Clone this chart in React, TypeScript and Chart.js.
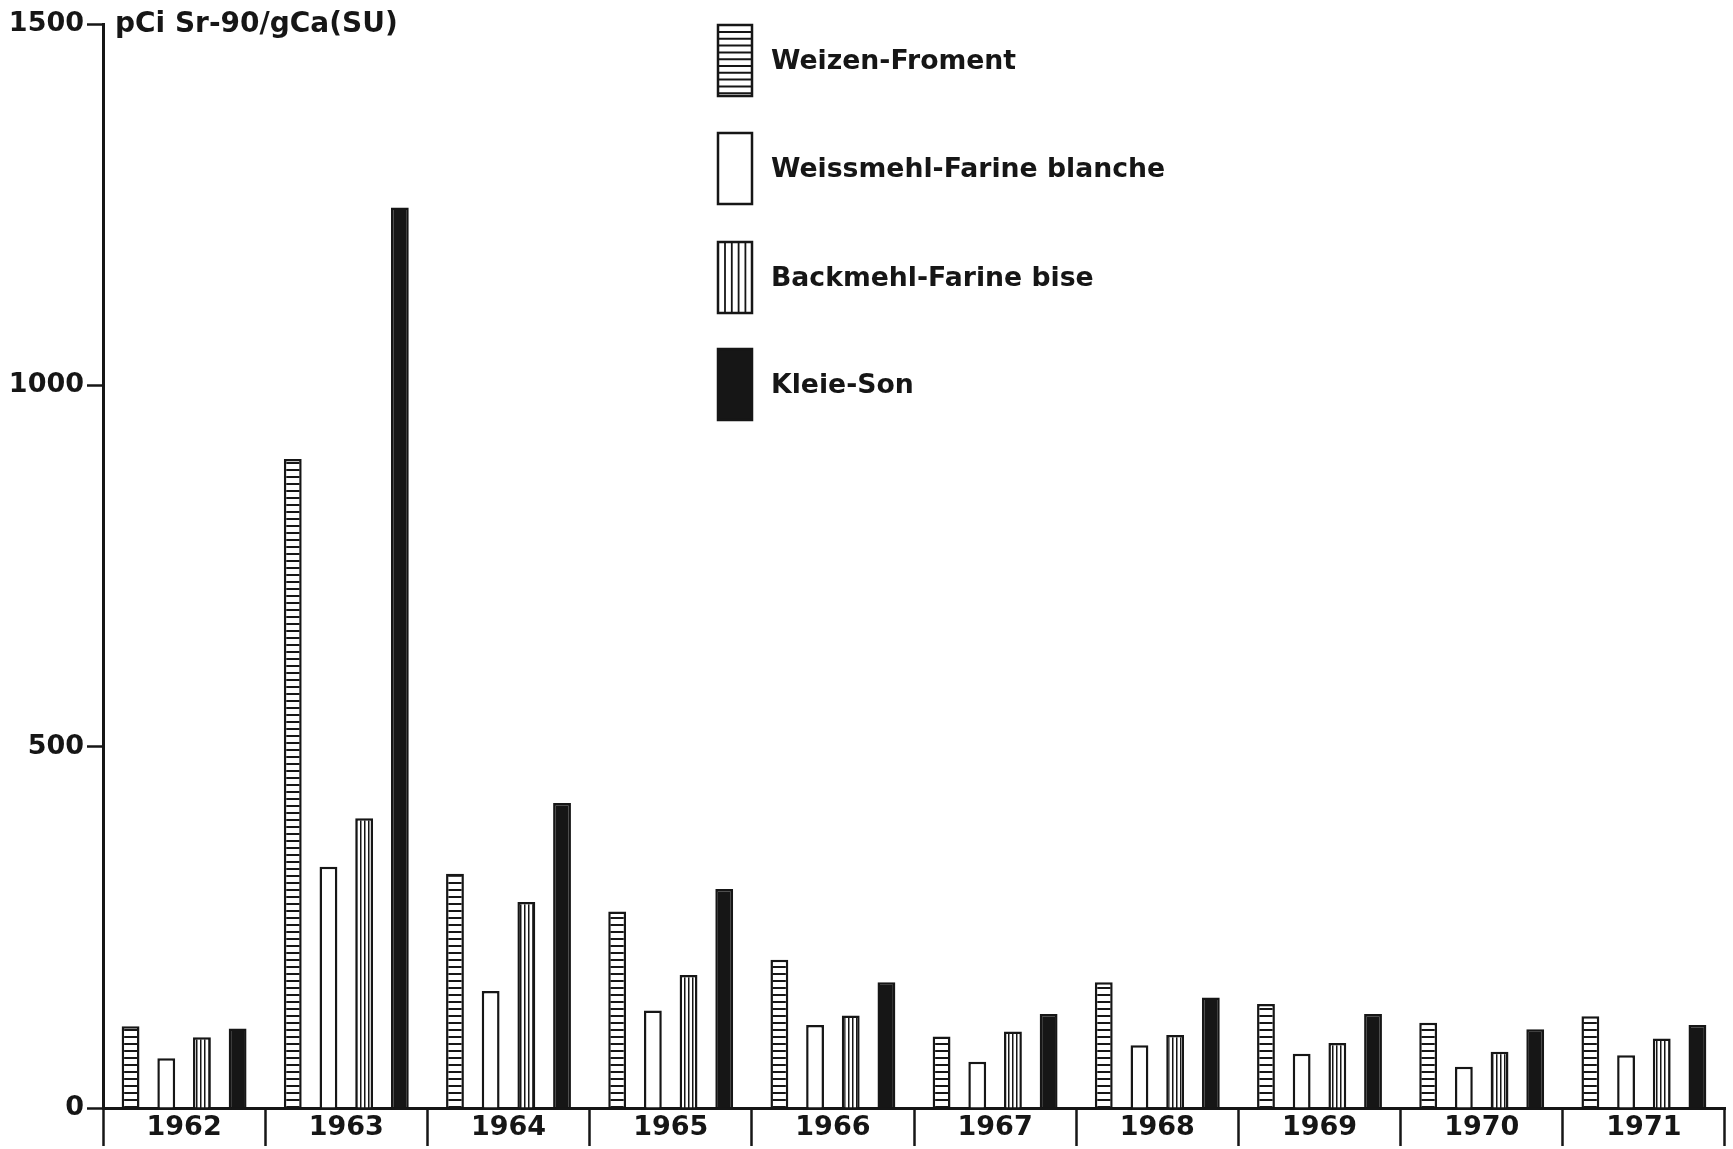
import React, { useEffect, useRef } from 'react';
import { Chart, registerables } from 'chart.js';

Chart.register(...registerables);

const years = ['1962', '1963', '1964', '1965', '1966', '1967', '1968', '1969', '1970', '1971'];
const weizen = [113, 898, 324, 272, 205, 99, 174, 144, 118, 127];
const weissmehl = [69, 334, 162, 135, 115, 64, 87, 75, 57, 73];
const backmehl = [98, 401, 285, 184, 128, 106, 101, 90, 78, 96];
const kleie = [110, 1246, 422, 303, 174, 130, 153, 130, 109, 115];
const seriesLabels = ['Weizen-Froment', 'Weissmehl-Farine blanche', 'Backmehl-Farine bise', 'Kleie-Son'];
const yMin = 0;
const yMax = 1500;
const yStep = 500;
const axisTitle = 'pCi Sr-90/gCa(SU)';

const INK = '#161616';
const FONT = '"DejaVu Sans", "Liberation Sans", sans-serif';

function makeTile(w: number, h: number, draw: (c: CanvasRenderingContext2D) => void): HTMLCanvasElement {
  const t = document.createElement('canvas');
  t.width = w;
  t.height = h;
  const c = t.getContext('2d')!;
  c.fillStyle = '#fff';
  c.fillRect(0, 0, w, h);
  draw(c);
  return t;
}

export default function App() {
  const ref = useRef<HTMLCanvasElement | null>(null);

  useEffect(() => {
    const canvas = ref.current!;
    const ctx = canvas.getContext('2d')!;

    const hTile = makeTile(8, 7, (c) => {
      c.fillStyle = INK;
      c.fillRect(0, 0, 8, 2);
    });
    const vTile = makeTile(4, 8, (c) => {
      c.fillStyle = INK;
      c.fillRect(0, 0, 1.5, 8);
    });
    const hPattern = ctx.createPattern(hTile, 'repeat')!;
    const vPattern = ctx.createPattern(vTile, 'repeat')!;

    const fills = [hPattern, '#ffffff', vPattern, INK];
    const values = [weizen, weissmehl, backmehl, kleie];

    const legendPlugin = {
      id: 'customLegend',
      afterDraw(chart: any) {
        const c: CanvasRenderingContext2D = chart.ctx;
        c.save();
        c.fillStyle = INK;
        c.font = `bold 28px ${FONT}`;
        c.textBaseline = 'middle';
        c.textAlign = 'left';
        c.fillText(axisTitle, 115, 25);

        const bx = 718;
        const bw = 34;
        const bh = 71;
        const tops = [25, 133, 242, 349];
        seriesLabels.forEach((lab, i) => {
          const y = tops[i];
          c.fillStyle = '#fff';
          c.fillRect(bx, y, bw, bh);
          c.strokeStyle = INK;
          if (i === 0) {
            c.lineWidth = 2;
            for (let yy = y + 7; yy < y + bh - 2; yy += 6.8) {
              c.beginPath();
              c.moveTo(bx, yy);
              c.lineTo(bx + bw, yy);
              c.stroke();
            }
          } else if (i === 2) {
            c.lineWidth = 1.8;
            for (let xx = bx + 7; xx < bx + bw - 2; xx += 6.8) {
              c.beginPath();
              c.moveTo(xx, y);
              c.lineTo(xx, y + bh);
              c.stroke();
            }
          } else if (i === 3) {
            c.fillStyle = INK;
            c.fillRect(bx, y, bw, bh);
          }
          c.lineWidth = 2.5;
          c.strokeStyle = INK;
          c.strokeRect(bx, y, bw, bh);
          c.fillStyle = INK;
          c.font = `bold 26.7px ${FONT}`;
          c.textBaseline = 'middle';
          c.fillText(lab, 771, y + bh / 2 + 2);
        });
        c.restore();
      },
    };

    const chart = new Chart(ctx, {
      type: 'bar',
      data: {
        labels: years,
        datasets: values.map((v, i) => ({
          label: seriesLabels[i],
          data: v,
          backgroundColor: fills[i] as any,
          borderColor: INK,
          borderWidth: 2.5,
          borderSkipped: 'start',
          categoryPercentage: 0.88,
          barPercentage: 0.5,
        })),
      },
      options: {
        responsive: false,
        animation: false,
        devicePixelRatio: 1,
        layout: { padding: { top: 24, right: 8, left: 0, bottom: 0 } },
        plugins: {
          legend: { display: false },
          tooltip: { enabled: false },
          title: { display: false },
        },
        scales: {
          x: {
            type: 'category',
            offset: true,
            grid: {
              offset: true,
              drawOnChartArea: false,
              drawTicks: true,
              tickLength: 38,
              tickColor: INK,
              tickWidth: 2.5,
              color: INK,
            },
            border: { display: true, color: INK, width: 3 },
            ticks: {
              color: INK,
              font: { family: FONT, size: 27, weight: 'bold' },
              padding: -34,
              maxRotation: 0,
              autoSkip: false,
            },
            afterFit: (s: any) => {
              s.height = 41;
            },
          },
          y: {
            min: yMin,
            max: yMax,
            grid: {
              drawOnChartArea: false,
              drawTicks: true,
              tickLength: 16,
              tickColor: INK,
              tickWidth: 2.5,
              color: INK,
            },
            border: { display: true, color: INK, width: 3 },
            ticks: {
              stepSize: yStep,
              color: INK,
              font: { family: FONT, size: 27, weight: 'bold' },
              padding: 3,
              callback: (v: any) => String(v),
            },
            afterFit: (s: any) => {
              s.width = 103;
            },
          },
        },
      },
      plugins: [legendPlugin],
    });

    return () => chart.destroy();
  }, []);

  return (
    <div style={{ position: 'absolute', left: 0, top: 0, width: 1733, height: 1149, background: '#fff' }}>
      <canvas ref={ref} width={1733} height={1149} style={{ display: 'block' }} />
    </div>
  );
}
